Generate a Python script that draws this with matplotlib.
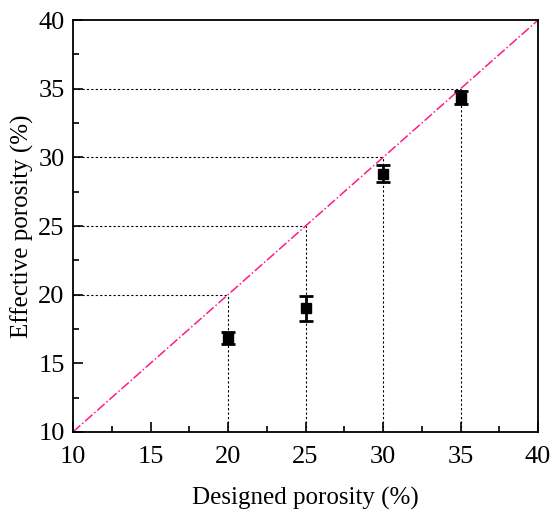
import numpy as np
import matplotlib
matplotlib.use("Agg")
import matplotlib.pyplot as plt
from matplotlib.ticker import MultipleLocator

# data
designed=[20,25,30,35]
effective=[16.85,19.0,28.8,34.35]
err=[0.45,0.9,0.62,0.45]

# plotstyle
plt.rcParams['font.family']=['Liberation Serif']
plt.rcParams['mathtext.fontset']='stix'

fig,ax=plt.subplots(figsize=(5.53,5.16),dpi=100)
fig.subplots_adjust(left=0.132,right=0.973,top=0.961,bottom=0.163)

# guide lines down to the axes
for d in designed:
    ax.plot([d,d],[10,d],color='k',ls=(0,(2,2)),lw=0.8)
    ax.plot([10,d],[d,d],color='k',ls=(0,(2,2)),lw=0.8)

# y = x
ax.plot([10,40],[10,40],color='#ff1a8c',ls='-.',lw=1.1)

ax.errorbar(designed,effective,yerr=err,fmt='s',color='k',ms=7,
            elinewidth=2,capsize=5,capthick=2,zorder=5)

ax.set_xlim(10,40);ax.set_ylim(10,40)
ax.xaxis.set_major_locator(MultipleLocator(5));ax.xaxis.set_minor_locator(MultipleLocator(2.5))
ax.yaxis.set_major_locator(MultipleLocator(5));ax.yaxis.set_minor_locator(MultipleLocator(2.5))
ax.tick_params(which='both',direction='in',labelsize=19,width=1.2)
ax.tick_params(which='major',length=7,pad=6)
ax.tick_params(axis='x',which='major',pad=10)
ax.tick_params(which='minor',length=4)
ax.tick_params(top=False,right=False,which='both')
for s in ax.spines.values(): s.set_linewidth(1.3)

ax.set_xlabel('Designed porosity (%)',fontsize=18,labelpad=14)
ax.set_ylabel('Effective porosity (%)',fontsize=18,labelpad=3)

fig.savefig('out.png',dpi=100)
